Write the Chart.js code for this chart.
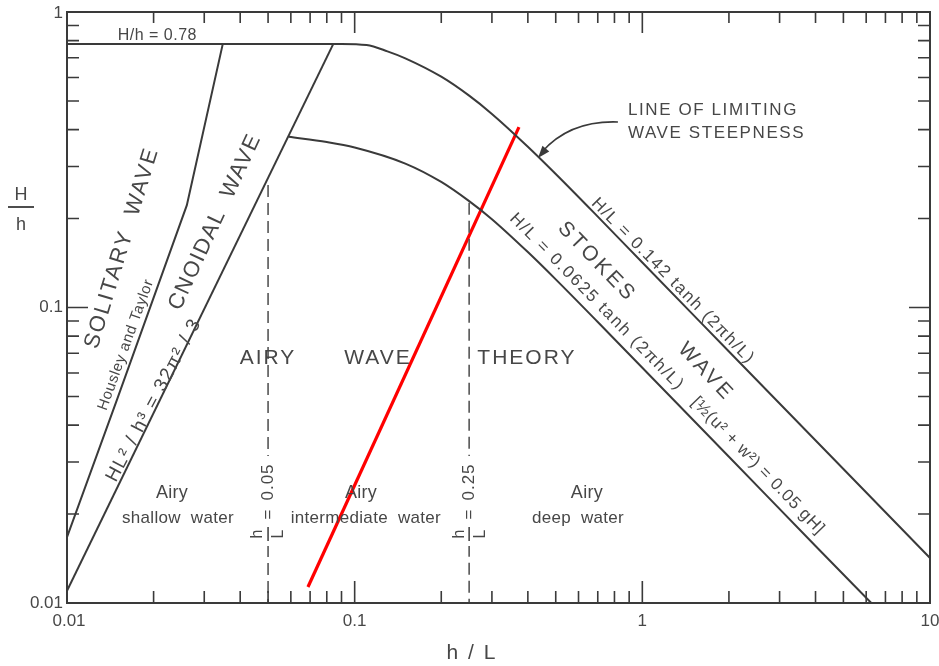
<!DOCTYPE html>
<html>
<head>
<meta charset="utf-8">
<script src="https://cdn.jsdelivr.net/npm/chart.js@4.4.1/dist/chart.umd.min.js"></script>
<style>
  html, body { margin: 0; padding: 0; background: #ffffff; }
  #wrap { width: 939px; height: 666px; }
</style>
</head>
<body>
<div id="wrap"><canvas id="c" width="939" height="666"></canvas></div>
<script>
// Axis ticks (log-log, h/L horizontal, H/h vertical)
const xTickValues = [0.01, 0.1, 1, 10];
const xTickLabels = ['0.01', '0.1', '1', '10'];
const yTickValues = [0.01, 0.1, 1];
const yTickLabels = ['0.01', '0.1', '1'];

// Breaking limit: H/h = 0.78 cap, then H/L = 0.142 tanh(2πh/L)
const limitX = [0.01, 0.05, 0.09, 0.11, 0.13, 0.15, 0.2, 0.25, 0.3, 0.4, 0.5, 0.7, 1, 2, 5, 10];
const limitY = [0.78, 0.78, 0.78, 0.773, 0.736, 0.697, 0.604, 0.521, 0.452, 0.350, 0.283, 0.203, 0.142, 0.071, 0.0284, 0.0142];

// Stokes / Airy boundary: H/L = 0.0625 tanh(2πh/L)
const stokesX = [0.059, 0.08, 0.1, 0.15, 0.2, 0.25, 0.3, 0.4, 0.5, 0.7, 1, 2, 4, 6.25];
const stokesY = [0.378, 0.363, 0.348, 0.307, 0.266, 0.229, 0.199, 0.154, 0.1245, 0.0893, 0.0625, 0.03125, 0.0156, 0.01];

// Cnoidal boundary: HL²/h³ = 32π²/3
const cnoidalX = [0.01, 0.0843];
const cnoidalY = [0.011, 0.78];

// Solitary / cnoidal boundary (Housley and Taylor)
const solitaryX = [0.01, 0.0149, 0.0261, 0.0348];
const solitaryY = [0.0167, 0.0486, 0.222, 0.78];

// Water-depth limits h/L = 0.05 and h/L = 0.25
const shallowLimitX = [0.05, 0.05];
const shallowLimitY = [0.26, 0.01];
const deepLimitX = [0.25, 0.25];
const deepLimitY = [0.226, 0.01];

// Highlight line
const redX = [0.0688, 0.3725];
const redY = [0.01133, 0.408];

const pts = (xs, ys) => xs.map((x, i) => ({ x: x, y: ys[i] }));

const INK = '#3a3a3a';
const TEXT = '#474747';
const FONT = '"Liberation Sans", Arial, sans-serif';

const decorations = {
  id: 'decorations',
  beforeDraw(chart) {
    const ctx = chart.ctx;
    ctx.save();
    ctx.fillStyle = '#ffffff';
    ctx.fillRect(0, 0, chart.width, chart.height);
    ctx.restore();
  },
  afterDraw(chart) {
    const ctx = chart.ctx;
    const xs = chart.scales.x, ys = chart.scales.y;
    const a = chart.chartArea;
    const P = (x, y) => [xs.getPixelForValue(x), ys.getPixelForValue(y)];

    ctx.save();
    // frame
    ctx.strokeStyle = INK;
    ctx.lineWidth = 2;
    ctx.strokeRect(a.left, a.top, a.right - a.left, a.bottom - a.top);

    // inward tick marks on all four sides
    ctx.lineWidth = 1.6;
    const tickSet = (min, max) => {
      const out = [];
      for (let d = min; d < max * 1.0001; d *= 10) {
        for (let m = 1; m <= 9; m++) {
          const v = m * d;
          if (v <= max * 1.0001) out.push({ v: v, major: m === 1 });
        }
      }
      return out;
    };
    ctx.beginPath();
    tickSet(0.01, 10).forEach(t => {
      const px = xs.getPixelForValue(t.v);
      const len = t.major ? 22 : 12;
      ctx.moveTo(px, a.bottom); ctx.lineTo(px, a.bottom - len);
      ctx.moveTo(px, a.top); ctx.lineTo(px, a.top + (t.major ? 21 : 11));
    });
    tickSet(0.01, 1).forEach(t => {
      const py = ys.getPixelForValue(t.v);
      const len = t.major ? 21 : 12;
      ctx.moveTo(a.left, py); ctx.lineTo(a.left + len, py);
      ctx.moveTo(a.right, py); ctx.lineTo(a.right - len, py);
    });
    ctx.stroke();

    // tick labels
    ctx.fillStyle = TEXT;
    ctx.font = '17px ' + FONT;
    ctx.textBaseline = 'middle';
    ctx.textAlign = 'center';
    xTickValues.forEach((v, i) => {
      ctx.fillText(xTickLabels[i], xs.getPixelForValue(v) + (i === 0 ? 2 : 0), a.bottom + 18);
    });
    ctx.textAlign = 'right';
    yTickValues.forEach((v, i) => {
      ctx.fillText(yTickLabels[i], a.left - 4, ys.getPixelForValue(v) + (i === 2 ? 1 : 0));
    });

    // axis titles
    ctx.textAlign = 'center';
    ctx.font = '21px ' + FONT;
    if ('letterSpacing' in ctx) ctx.letterSpacing = '2px';
    ctx.fillText('h / L', 472, a.bottom + 50);
    if ('letterSpacing' in ctx) ctx.letterSpacing = '0px';
    ctx.font = '18px ' + FONT;
    ctx.fillText('H', 21, 195);
    ctx.fillText('h', 21, 225);
    ctx.beginPath();
    ctx.lineWidth = 1.8;
    ctx.moveTo(8, 207); ctx.lineTo(34, 207);
    ctx.stroke();

    // text helper anchored in data coordinates
    const label = (str, x, y, ang, size, spacing, weight) => {
      const p = P(x, y);
      ctx.save();
      ctx.translate(p[0], p[1]);
      ctx.rotate(ang * Math.PI / 180);
      ctx.font = (weight || '') + ' ' + size + 'px ' + FONT;
      if ('letterSpacing' in ctx) ctx.letterSpacing = (spacing || 0) + 'px';
      ctx.textAlign = 'center';
      ctx.textBaseline = 'middle';
      ctx.fillStyle = TEXT;
      ctx.fillText(str, 0, 0);
      ctx.restore();
    };

    label('H/h = 0.78', 0.0206, 0.835, 0, 16, 0.5);
    label('SOLITARY  WAVE', 0.01553, 0.159, -73, 22, 2);
    label('Housley and Taylor', 0.01603, 0.0747, -70, 15, 0.6);
    label('CNOIDAL  WAVE', 0.0327, 0.1947, -65, 22, 1.5);
    label('HL² / h³ = 32π² / 3', 0.02006, 0.0486, -62, 19, 1.6);
    label('AIRY', 0.04995, 0.0675, 0, 21, 2);
    label('WAVE', 0.1205, 0.0675, 0, 21, 2);
    label('THEORY', 0.397, 0.0675, 0, 21, 2);
    label('STOKES', 0.6954, 0.1426, 46, 21, 3);
    label('WAVE', 1.663, 0.0605, 47, 21, 3);
    label('H/L = 0.142 tanh (2πh/L)', 1.278, 0.1229, 45.5, 17, 1.6);
    label('H/L = 0.0625 tanh (2πh/L)', 0.6954, 0.1044, 45.5, 17, 1.8);
    label('[½(u² + w²) = 0.05 gH]', 2.522, 0.0291, 46, 17, 0.8);
    label('Airy', 0.02317, 0.02357, 0, 18, 0.3);
    label('shallow  water', 0.02431, 0.01939, 0, 17, 0.3);
    label('Airy', 0.1052, 0.02357, 0, 18, 0.3);
    label('intermediate  water', 0.1094, 0.01939, 0, 17, 0.3);
    label('Airy', 0.642, 0.02357, 0, 18, 0.3);
    label('deep  water', 0.5975, 0.01939, 0, 17, 0.3);

    // LINE OF LIMITING WAVE STEEPNESS note with arrow
    ctx.save();
    ctx.fillStyle = TEXT;
    ctx.font = '17px ' + FONT;
    if ('letterSpacing' in ctx) ctx.letterSpacing = '1.6px';
    ctx.textAlign = 'left';
    ctx.textBaseline = 'middle';
    let p = P(0.891, 0.466);
    ctx.fillText('LINE OF LIMITING', p[0], p[1]);
    p = P(0.891, 0.39);
    ctx.fillText('WAVE STEEPNESS', p[0], p[1]);
    ctx.restore();

    const s = P(0.8226, 0.4244), c = P(0.56, 0.43), tip = P(0.4337, 0.3206);
    ctx.beginPath();
    ctx.strokeStyle = INK;
    ctx.lineWidth = 1.6;
    ctx.moveTo(s[0], s[1]);
    ctx.quadraticCurveTo(c[0], c[1], tip[0] + 4, tip[1] - 6);
    ctx.stroke();
    const ang = Math.atan2(tip[1] - c[1], tip[0] - c[0]);
    ctx.beginPath();
    ctx.fillStyle = INK;
    ctx.moveTo(tip[0], tip[1]);
    ctx.lineTo(tip[0] - 13 * Math.cos(ang - 0.35), tip[1] - 13 * Math.sin(ang - 0.35));
    ctx.lineTo(tip[0] - 13 * Math.cos(ang + 0.35), tip[1] - 13 * Math.sin(ang + 0.35));
    ctx.closePath();
    ctx.fill();

    // h/L labels on the dashed depth limits
    const depthLabel = (xv, val) => {
      const px = xs.getPixelForValue(xv);
      const cy = 534;
      ctx.save();
      ctx.fillStyle = '#ffffff';
      ctx.fillRect(px - 15, cy - 78, 30, 90);
      ctx.translate(px, cy);
      ctx.rotate(-Math.PI / 2);
      ctx.fillStyle = TEXT;
      ctx.strokeStyle = TEXT;
      ctx.textAlign = 'center';
      ctx.textBaseline = 'middle';
      ctx.font = '16px ' + FONT;
      ctx.fillText('h', 0, -10);
      ctx.fillText('L', 0, 11);
      ctx.lineWidth = 1.6;
      ctx.beginPath();
      ctx.moveTo(-7, 0); ctx.lineTo(7, 0);
      ctx.stroke();
      ctx.font = '17px ' + FONT;
      if ('letterSpacing' in ctx) ctx.letterSpacing = '1px';
      ctx.fillText('=', 20, 0);
      ctx.fillText(val, 52, 0);
      ctx.restore();
    };
    depthLabel(0.05, '0.05');
    depthLabel(0.25, '0.25');

    ctx.restore();
  }
};

const lineStyle = { borderColor: INK, borderWidth: 2, pointRadius: 0, showLine: true, fill: false };

new Chart(document.getElementById('c'), {
  type: 'scatter',
  data: {
    datasets: [
      Object.assign({ label: 'limit', data: pts(limitX, limitY), cubicInterpolationMode: 'monotone' }, lineStyle),
      Object.assign({ label: 'stokes', data: pts(stokesX, stokesY), cubicInterpolationMode: 'monotone' }, lineStyle),
      Object.assign({ label: 'cnoidal', data: pts(cnoidalX, cnoidalY) }, lineStyle),
      Object.assign({ label: 'solitary', data: pts(solitaryX, solitaryY) }, lineStyle),
      Object.assign({ label: 'h/L 0.05', data: pts(shallowLimitX, shallowLimitY) }, lineStyle, { borderWidth: 1.6, borderDash: [12, 6], borderColor: '#555555' }),
      Object.assign({ label: 'h/L 0.25', data: pts(deepLimitX, deepLimitY) }, lineStyle, { borderWidth: 1.6, borderDash: [12, 6], borderColor: '#555555' }),
      { label: 'red', data: pts(redX, redY), showLine: true, pointRadius: 0, borderColor: '#ff0000', borderWidth: 3.2, fill: false }
    ]
  },
  options: {
    responsive: false,
    animation: false,
    devicePixelRatio: 1,
    layout: { padding: { left: 67, right: 9, top: 12, bottom: 63 } },
    plugins: { legend: { display: false }, tooltip: { enabled: false } },
    scales: {
      x: { type: 'logarithmic', min: 0.01, max: 10, display: false },
      y: { type: 'logarithmic', min: 0.01, max: 1, display: false }
    }
  },
  plugins: [decorations]
});
</script>
</body>
</html>
